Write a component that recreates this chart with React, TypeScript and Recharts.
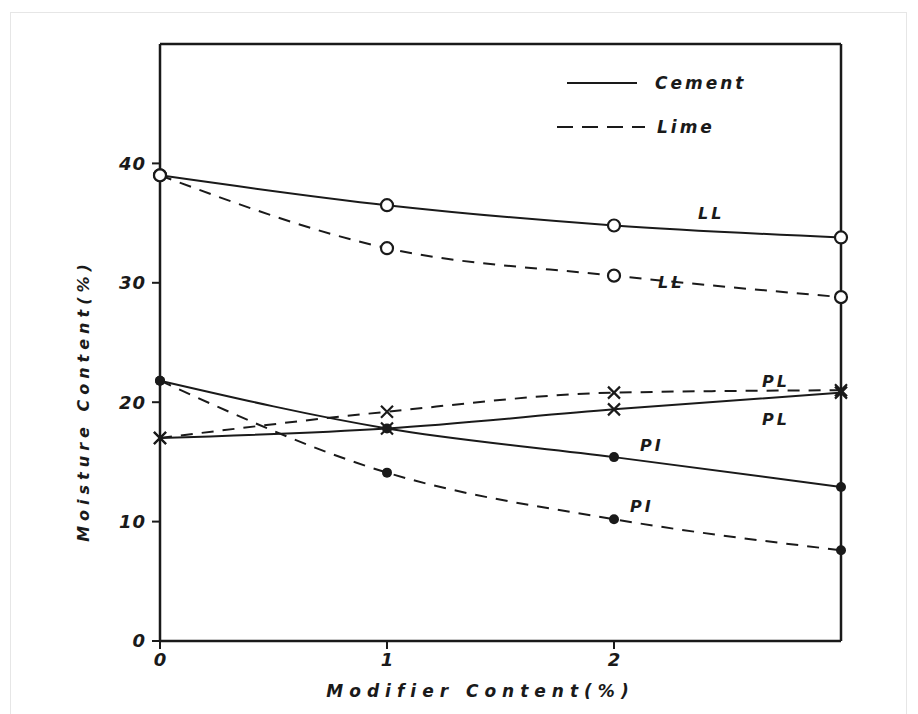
import React from 'react';
import { LineChart, Line, XAxis, YAxis, ReferenceLine } from 'recharts';

const modifier = [0, 1, 2, 3];
const cementLL = [39, 36.5, 34.8, 33.8];
const limeLL = [39, 32.9, 30.6, 28.8];
const cementPL = [17, 17.8, 19.4, 20.8];
const limePL = [17, 19.2, 20.8, 21];
const cementPI = [21.8, 17.8, 15.4, 12.9];
const limePI = [21.8, 14.1, 10.2, 7.6];
const xTicks = [0, 1, 2];
const yTicks = [0, 10, 20, 30, 40];

const data = modifier.map((m, i) => ({
  m,
  cementLL: cementLL[i],
  limeLL: limeLL[i],
  cementPL: cementPL[i],
  limePL: limePL[i],
  cementPI: cementPI[i],
  limePI: limePI[i],
}));

const INK = '#1a1a1a';
const FONT = '"DejaVu Sans", sans-serif';
const textStyle = { fontFamily: FONT, fontStyle: 'italic', fontWeight: 700, fill: INK } as const;

const OpenDot = (props: any) => {
  const { cx, cy, index } = props;
  return <circle key={index} cx={cx} cy={cy} r={6} fill="#fff" stroke={INK} strokeWidth={2.2} />;
};

const FilledDot = (props: any) => {
  const { cx, cy, index } = props;
  return <circle key={index} cx={cx} cy={cy} r={5} fill={INK} stroke="none" />;
};

const CrossDot = (props: any) => {
  const { cx, cy, index } = props;
  const s = 6;
  return (
    <path
      key={index}
      d={`M${cx - s},${cy - s}L${cx + s},${cy + s}M${cx - s},${cy + s}L${cx + s},${cy - s}`}
      stroke={INK}
      strokeWidth={2.2}
    />
  );
};

// curve name placed near the 2% point
const curveLabel = (text: string, dx: number, dy: number) => (props: any) => {
  const { x, y, index } = props;
  if (index !== 2) return null;
  return (
    <text key="lbl" x={x + dx} y={y + dy} style={textStyle} fontSize={16} letterSpacing={3} textAnchor="start">
      {text}
    </text>
  );
};

// legend drawn over the plot, top right
const LegendBox = () => (
  <svg width={220} height={70} style={{ position: 'absolute', left: 555, top: 70 }}>
    <line x1={12} y1={13} x2={82} y2={13} stroke={INK} strokeWidth={2} />
    <text x={100} y={19} style={textStyle} fontSize={17} letterSpacing={3}>Cement</text>
    <line x1={2} y1={57} x2={90} y2={57} stroke={INK} strokeWidth={2} strokeDasharray="16 9" />
    <text x={102} y={63} style={textStyle} fontSize={17} letterSpacing={3}>Lime</text>
  </svg>
);

const YTitle = (props: any) => {
  const { viewBox } = props;
  const cx = viewBox.x + 23;
  const cy = viewBox.y + viewBox.height / 2 + 58;
  return (
    <text x={cx} y={cy} transform={`rotate(-90 ${cx} ${cy})`} textAnchor="middle" dominantBaseline="central"
      style={textStyle} fontSize={16} letterSpacing={5}>
      Moisture Content(%)
    </text>
  );
};

export default function App() {
  const lineProps = { type: 'monotone' as const, stroke: INK, strokeWidth: 2, isAnimationActive: false };
  return (
    <div style={{ position: 'absolute', left: 0, top: 0, width: 918, height: 714, background: '#fff' }}>
      <div style={{ position: 'absolute', left: 10, top: 12, width: 895, height: 720, border: '1px solid #e6e6e6' }} />
      <LineChart width={918} height={714} data={data} margin={{ top: 44, right: 77, bottom: 20, left: 60 }}>
        <XAxis
          dataKey="m"
          type="number"
          domain={[0, 3]}
          ticks={xTicks}
          tickSize={8}
          tickMargin={4}
          axisLine={{ stroke: INK, strokeWidth: 2.5 }}
          tickLine={{ stroke: INK, strokeWidth: 2 }}
          tick={{ ...textStyle, fontSize: 18 }}
          height={53}
          label={{ value: 'Modifier Content(%)', position: 'insideBottom', offset: -3, dx: -20, style: { ...textStyle, fontSize: 17, letterSpacing: 6 } }}
        />
        <YAxis
          type="number"
          domain={[0, 50]}
          ticks={yTicks}
          tickSize={8}
          tickMargin={6}
          width={100}
          axisLine={{ stroke: INK, strokeWidth: 2.5 }}
          tickLine={{ stroke: INK, strokeWidth: 2 }}
          tick={{ ...textStyle, fontSize: 18, letterSpacing: 1 }}
          label={<YTitle />}
        />
        <ReferenceLine y={50} stroke={INK} strokeWidth={2.5} />
        <ReferenceLine x={3} stroke={INK} strokeWidth={2.5} />

        <Line {...lineProps} dataKey="cementLL" dot={<OpenDot />} label={curveLabel('LL', 84, -6)} />
        <Line {...lineProps} dataKey="limeLL" strokeDasharray="12 9" dot={<OpenDot />} label={curveLabel('LL', 44, 12)} />
        <Line {...lineProps} dataKey="cementPL" dot={<CrossDot />} label={curveLabel('PL', 148, 16)} />
        <Line {...lineProps} dataKey="limePL" strokeDasharray="12 9" dot={<CrossDot />} label={curveLabel('PL', 148, -6)} />
        <Line {...lineProps} dataKey="cementPI" dot={<FilledDot />} label={curveLabel('PI', 26, -6)} />
        <Line {...lineProps} dataKey="limePI" strokeDasharray="12 9" dot={<FilledDot />} label={curveLabel('PI', 16, -7)} />
      </LineChart>
      <LegendBox />
    </div>
  );
}
